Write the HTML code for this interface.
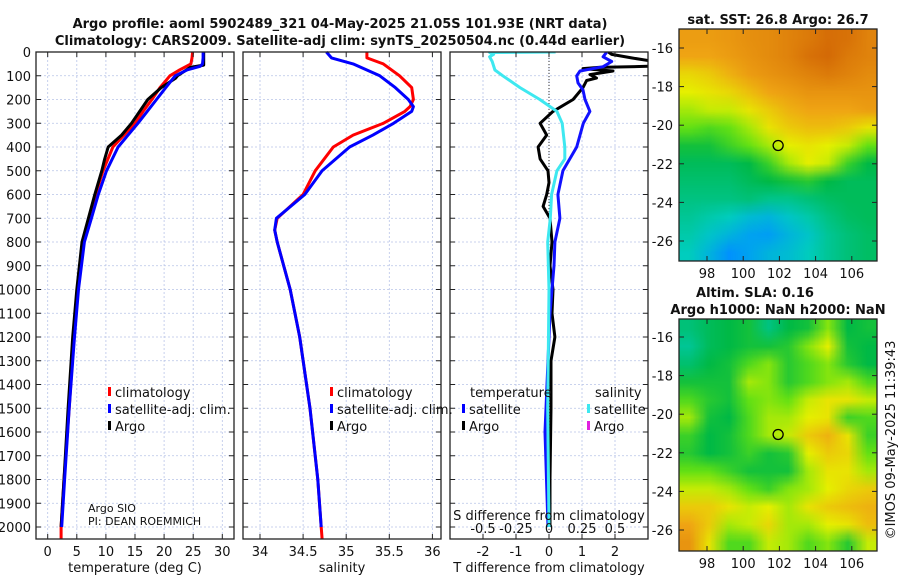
<!DOCTYPE html>
<html><head><meta charset="utf-8"><style>
body{margin:0;background:#fff;width:900px;height:580px;overflow:hidden;position:relative;font-family:"DejaVu Sans","Liberation Sans",sans-serif}
svg{position:absolute;left:0;top:0}
canvas{position:absolute}
</style></head><body>
<canvas id="sst" width="198" height="232" style="left:679px;top:29px"></canvas>
<canvas id="sla" width="198" height="232" style="left:679px;top:319px"></canvas>
<svg id="chart" width="900" height="580" xmlns="http://www.w3.org/2000/svg"></svg>
<script>
// ---- data ----
const tempClimDepth=[0,25,50,75,100,150,200,250,300,400,500,600,700,800,1000,1200,1500,1800,2000,2050];
const tempClim=[24.9,24.8,24.6,22.7,21.0,19.3,17.9,16.4,15.0,11.2,9.5,8.2,7.3,6.2,5.2,4.5,3.7,2.8,2.3,2.3];
const tempSatDepth=[0,25,50,60,75,100,150,200,250,300,400,500,600,700,800,1000,1200,1500,1800,2000];
const tempSat=[26.7,26.7,26.6,26.2,24.0,21.9,20.3,18.7,17.1,15.5,12.1,10.1,8.7,7.5,6.3,5.3,4.6,3.7,2.9,2.4];
const tempArgoDepth=[0,55,65,100,110,150,200,300,350,400,450,500,600,700,800,1000,1200,1500,1800,2000];
const tempArgo=[26.8,26.8,24.5,22.3,22.0,19.5,17.2,14.4,12.7,10.4,9.8,9.3,8.1,7.0,5.9,5.0,4.3,3.5,2.8,2.3];
const salDepth=[0,25,50,100,150,200,230,250,300,350,400,500,600,700,750,800,1000,1200,1500,1800,2000,2050];
const salClim=[35.24,35.24,35.43,35.62,35.76,35.78,35.74,35.68,35.43,35.08,34.85,34.64,34.50,34.20,34.17,34.20,34.35,34.46,34.58,34.67,34.71,34.72];
const salSat=[34.77,34.83,35.08,35.39,35.57,35.72,35.78,35.76,35.55,35.31,35.04,34.72,34.52,34.19,34.17,34.20,34.35,34.46,34.58,34.67,34.71,34.71];
const dSatSDepth=[0,2,10,20,40,76,100,150,200,250,300,400,450,500,600,700,800,1000,1500,2000];
const dSatS=[0.05,-0.45,-0.42,-0.45,-0.43,-0.41,-0.35,-0.22,-0.07,0.06,0.10,0.12,0.12,0.06,0.02,0.01,-0.01,0.0,-0.01,0.0];
const dSatTDepth=[0,20,40,62,80,100,130,160,200,250,300,400,500,600,700,800,900,1000,1100,1300,1600,2000];
const dSatT=[1.75,1.64,1.9,1.64,0.94,0.84,0.88,1.03,1.09,1.24,1.04,0.84,0.42,0.27,0.33,0.18,0.15,0.09,0.03,-0.03,-0.12,-0.03];
const dArgoTDepth=[0,10,25,40,50,60,65,70,80,95,110,120,150,200,250,300,350,400,450,500,550,600,650,700,800,900,1000,1100,1200,1300,1500,1800,2000];
const dArgoT=[1.8,1.9,2.5,3.2,3.3,3.0,1.5,1.03,1.94,1.24,1.44,1.14,1.03,0.73,0.12,-0.27,-0.07,-0.33,-0.27,-0.03,0.0,-0.07,-0.18,0.03,0.09,0.03,0.12,0.09,0.18,0.06,0.06,0.03,0.03];
const depthTicks=[0,100,200,300,400,500,600,700,800,900,1000,1100,1200,1300,1400,1500,1600,1700,1800,1900,2000];
const tTicks=[0,5,10,15,20,25,30];
const sTicks=[34,34.5,35,35.5,36];
const sTickLabels=["34","34.5","35","35.5","36"];
const dtTicks=[-2,-1,0,1,2];
const dsTicks=[-0.5,-0.25,0,0.25,0.5];
const dsTickLabels=["-0.5","-0.25","0","0.25","0.5"];
const lonTicks=[98,100,102,104,106];
const latTicks=[-16,-18,-20,-22,-24,-26];
const sstGrid=[
[.82,.82,.83,.85,.86,.88,.9,.93,.92,.88],
[.8,.8,.82,.84,.86,.88,.92,.94,.9,.88],
[.72,.74,.78,.82,.84,.86,.88,.9,.88,.86],
[.68,.7,.72,.76,.8,.82,.84,.84,.84,.84],
[.64,.66,.66,.7,.74,.78,.8,.8,.8,.82],
[.6,.58,.6,.64,.7,.74,.76,.76,.74,.7],
[.52,.52,.56,.6,.64,.68,.7,.68,.66,.6],
[.48,.48,.48,.5,.56,.64,.68,.66,.56,.5],
[.46,.46,.46,.48,.5,.52,.54,.5,.48,.48],
[.44,.44,.44,.45,.43,.43,.45,.47,.48,.48],
[.42,.4,.38,.34,.32,.36,.4,.44,.47,.48],
[.4,.36,.32,.28,.27,.32,.36,.42,.45,.47],
[.38,.32,.24,.28,.32,.34,.38,.42,.45,.47]];
const slaGrid=[
[.45,.48,.5,.52,.44,.5,.52,.62,.5,.52],
[.42,.48,.5,.52,.52,.54,.62,.68,.52,.5],
[.46,.5,.52,.58,.62,.54,.58,.62,.54,.5],
[.52,.52,.52,.64,.62,.54,.58,.62,.64,.58],
[.58,.54,.52,.6,.62,.6,.66,.7,.7,.66],
[.64,.52,.5,.58,.64,.64,.68,.7,.56,.58],
[.56,.5,.52,.58,.64,.66,.74,.78,.7,.56],
[.54,.5,.52,.56,.52,.54,.68,.74,.72,.6],
[.6,.6,.56,.52,.52,.52,.64,.7,.7,.64],
[.66,.66,.64,.6,.56,.62,.64,.68,.72,.74],
[.74,.74,.7,.66,.68,.64,.7,.74,.76,.78],
[.8,.74,.64,.66,.72,.64,.64,.68,.7,.76],
[.84,.7,.58,.58,.66,.64,.58,.62,.54,.66]];
// ---- helpers ----
const NS="http://www.w3.org/2000/svg";
const svg=document.getElementById('chart');
function el(tag,attrs,parent){const e=document.createElementNS(NS,tag);for(const k in attrs)e.setAttribute(k,attrs[k]);(parent||svg).appendChild(e);return e;}
function txt(x,y,s,size,anchor,weight,parent){const t=el('text',{x:x,y:y,'font-size':size,'text-anchor':anchor||'middle','font-weight':weight||'normal',fill:'#111'},parent);t.textContent=s;return t;}
const Y0=52,PXM=0.2375;
const yD=d=>Y0+d*PXM;
const xT=v=>47.7+v*5.82;
const xS=v=>260+(v-34)*86.2;
const xDT=v=>549+v*33;
const xDS=v=>549+v*132;
const panels=[{x0:36,x1:234,name:'temperature-panel'},{x0:243,x1:441,name:'salinity-panel'},{x0:450,x1:648,name:'difference-panel'}];
const B=539;
let t=txt(340,28,'Argo profile: aoml 5902489_321 04-May-2025 21.05S 101.93E (NRT data)',13,'middle','bold');

t=txt(340,45,'Climatology: CARS2009. Satellite-adj clim: synTS_20250504.nc (0.44d earlier)',13,'middle','bold');

function panelFrame(p,xticks,xfun){
  const g=el('g',{});
  
  xticks.forEach(v=>{el('line',{x1:xfun(v),x2:xfun(v),y1:Y0,y2:B,stroke:'#b8c4e8','stroke-width':0.8,'stroke-dasharray':'2,2'},g);});
  depthTicks.forEach(d=>{el('line',{x1:p.x0,x2:p.x1,y1:yD(d),y2:yD(d),stroke:'#b8c4e8','stroke-width':0.8,'stroke-dasharray':'2,2'},g);
    el('line',{x1:p.x0,x2:p.x0+5,y1:yD(d),y2:yD(d),stroke:'#222'},g);
    el('line',{x1:p.x1-5,x2:p.x1,y1:yD(d),y2:yD(d),stroke:'#222'},g);});
  return g;
}
function frameBox(p){el('rect',{x:p.x0,y:Y0,width:p.x1-p.x0,height:B-Y0,fill:'none',stroke:'#222','stroke-width':1.3});}
function line(xs,ds,xf,color,w,name,g){
  const pts=xs.map((v,i)=>xf(v).toFixed(1)+','+yD(ds[i]).toFixed(1)).join(' ');
  const pl=el('polyline',{points:pts,fill:'none',stroke:color,'stroke-width':w,'stroke-linejoin':'round'},g);
  return pl;
}
const defs=el('defs',{});const cp=el('clipPath',{id:'c3'},defs);el('rect',{x:450,y:Y0,width:198,height:B-Y0},cp);
const g1=panelFrame(panels[0],tTicks,xT);
line(tempClim,tempClimDepth,xT,'#f00',3,'temperature-climatology-line',g1);
line(tempArgo,tempArgoDepth,xT,'#000',3,'temperature-argo-line',g1);
line(tempSat,tempSatDepth,xT,'#00f',3,'temperature-satellite-line',g1);
frameBox(panels[0]);
depthTicks.forEach(d=>{const l=txt(31,yD(d)+5,String(d),13,'end');});
tTicks.forEach(v=>{el('line',{x1:xT(v),x2:xT(v),y1:B,y2:B-5,stroke:'#222'});el('line',{x1:xT(v),x2:xT(v),y1:Y0,y2:Y0+5,stroke:'#222'});
  const l=txt(xT(v),556,String(v),13);});
t=txt(135,572,'temperature (deg C)',13);
const g2=panelFrame(panels[1],sTicks,xS);
line(salClim,salDepth,xS,'#f00',3,'salinity-climatology-line',g2);
line(salSat.slice(0,21),salDepth.slice(0,21),xS,'#00f',3,'salinity-satellite-line',g2);
frameBox(panels[1]);
sTicks.forEach((v,i)=>{el('line',{x1:xS(v),x2:xS(v),y1:B,y2:B-5,stroke:'#222'});el('line',{x1:xS(v),x2:xS(v),y1:Y0,y2:Y0+5,stroke:'#222'});
  const l=txt(xS(v),556,sTickLabels[i],13);});
t=txt(342,572,'salinity',13);
const g3=panelFrame(panels[2],dtTicks,xDT);
g3.setAttribute('clip-path','url(#c3)');
el('line',{x1:549,x2:549,y1:Y0,y2:B,stroke:'#333','stroke-width':1,'stroke-dasharray':'1,2'},g3);
line(dArgoT,dArgoTDepth,xDT,'#000',3,'argo-temperature-difference-line',g3);
line(dSatT,dSatTDepth,xDT,'#11f',3,'satellite-temperature-difference-line',g3);
line(dSatS,dSatSDepth,xDS,'#3ee8f0',3,'satellite-salinity-difference-line',g3);
frameBox(panels[2]);
dtTicks.forEach(v=>{el('line',{x1:xDT(v),x2:xDT(v),y1:B,y2:B-5,stroke:'#222'});
  const l=txt(xDT(v),556,String(v),13);});
dsTicks.forEach((v,i)=>{el('line',{x1:xDS(v),x2:xDS(v),y1:Y0,y2:Y0+5,stroke:'#222'});
  const l=txt(xDS(v),533,dsTickLabels[i],13);});
t=txt(549,520,'S difference from climatology',13);
t=txt(549,572,'T difference from climatology',13);
function legItem(x,y,color,label,name){const g=el('g',{});
  el('rect',{x:x,y:y-10,width:3,height:9,fill:color},g);txt(x+7,y,label,13,'start','normal',g);}
legItem(108,397,'#f00','climatology','legend-climatology');
legItem(108,414,'#00f','satellite-adj. clim.','legend-satellite-adj');
legItem(108,431,'#000','Argo','legend-argo');
legItem(330,397,'#f00','climatology','legend-climatology-sal');
legItem(330,414,'#00f','satellite-adj. clim.','legend-satellite-adj-sal');
legItem(330,431,'#000','Argo','legend-argo-sal');
t=txt(470,397,'temperature',13,'start');
t=txt(595,397,'salinity',13,'start');
legItem(462,414,'#00f','satellite','legend-t-satellite');
legItem(462,431,'#000','Argo','legend-t-argo');
legItem(587,414,'#3ee8f0','satellite','legend-s-satellite');
legItem(587,431,'#e020e0','Argo','legend-s-argo');
t=txt(88,512,'Argo SIO',11,'start');
t=txt(88,525,'PI: DEAN ROEMMICH',11,'start');
const stops=[[0,[0,40,240]],[0.25,[0,150,255]],[0.38,[0,205,190]],[0.5,[0,185,70]],[0.6,[100,225,20]],[0.68,[230,240,0]],[0.8,[240,165,20]],[1,[200,80,0]]];
function cmap(v){for(let i=1;i<stops.length;i++){if(v<=stops[i][0]){const a=stops[i-1],b=stops[i],f=(v-a[0])/(b[0]-a[0]);return a[1].map((c,k)=>Math.round(c+(b[1][k]-c)*f));}}return stops[stops.length-1][1];}
function drawMap(id,grid){
  const small=document.createElement('canvas');small.width=grid[0].length;small.height=grid.length;
  const sc=small.getContext('2d');const im=sc.createImageData(small.width,small.height);
  grid.forEach((row,r)=>row.forEach((v,c)=>{const col=cmap(v);const i=(r*small.width+c)*4;im.data[i]=col[0];im.data[i+1]=col[1];im.data[i+2]=col[2];im.data[i+3]=255;}));
  sc.putImageData(im,0,0);
  const ctx=document.getElementById(id).getContext('2d');ctx.imageSmoothingEnabled=true;ctx.drawImage(small,0,0,198,232);
}
drawMap('sst',sstGrid);drawMap('sla',slaGrid);
const xLon=v=>707+(v-98)*18.1;
function mapFrame(top,latTop,name){
  const g=el('g',{});
  el('rect',{x:679,y:top,width:198,height:232,fill:'none',stroke:'#222','stroke-width':1.3},g);
  lonTicks.forEach(v=>{el('line',{x1:xLon(v),x2:xLon(v),y1:top+232,y2:top+227,stroke:'#222'},g);el('line',{x1:xLon(v),x2:xLon(v),y1:top,y2:top+5,stroke:'#222'},g);
    txt(xLon(v),top+249,String(v),13,'middle','normal',g);});
  latTicks.forEach(v=>{const y=latTop+(-16-v)*19.3;el('line',{x1:679,x2:684,y1:y,y2:y,stroke:'#222'},g);el('line',{x1:872,x2:877,y1:y,y2:y,stroke:'#222'},g);
    txt(673,y+5,String(v),13,'end','normal',g);});
  const c=el('circle',{cx:xLon(101.93),cy:latTop+(21.05-16)*19.3,r:5,fill:'none',stroke:'#000','stroke-width':1.3},g);
  
}
mapFrame(29,48,'sst-map-axes');mapFrame(319,337,'sla-map-axes');
t=txt(778,24,'sat. SST: 26.8 Argo: 26.7',13,'middle','bold');
t=txt(755,297,'Altim. SLA: 0.16',13,'middle','bold');
t=txt(778,314,'Argo h1000: NaN h2000: NaN',13,'middle','bold');
t=txt(0,0,'©IMOS 09-May-2025 11:39:43',13,'middle');t.setAttribute('transform','translate(895,440) rotate(-90)');

</script>
</body></html>
